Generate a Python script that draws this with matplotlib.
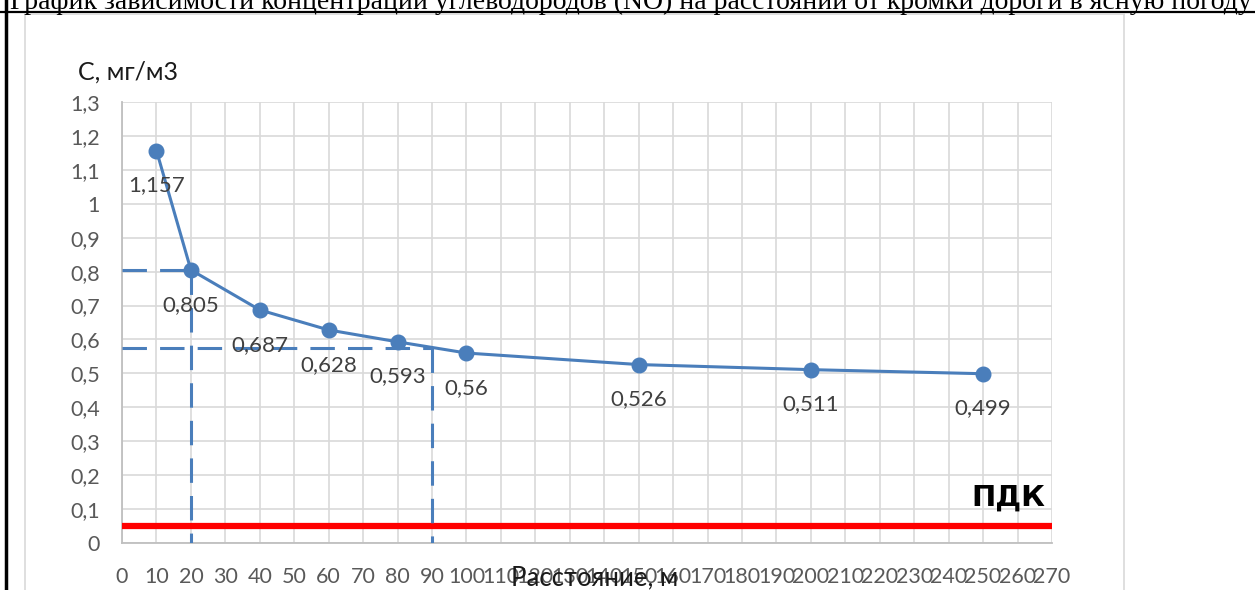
import numpy as np
import matplotlib
matplotlib.use("Agg")
import matplotlib.pyplot as plt
from matplotlib.lines import Line2D

# Data
dist = [10, 20, 40, 60, 80, 100, 150, 200, 250]
conc = [1.157, 0.805, 0.687, 0.628, 0.593, 0.56, 0.526, 0.511, 0.499]
pdk = 0.05
guide_x = [20, 90]
guide_y = [0.805, 0.575]
x_ticks = list(range(0, 271, 10))
y_ticks = [round(v * 0.1, 1) for v in range(0, 14)]

title = "График зависимости концентрации углеводородов (NO) на расстоянии от кромки дороги в ясную погоду"

plt.rcParams['font.family'] = ['Lato', 'Noto Sans', 'DejaVu Sans']

blue = '#4a7ebb'
W, H = 1255, 590
fig = plt.figure(figsize=(W / 100, H / 100), dpi=100)

ax = fig.add_axes([122 / W, (H - 543) / H, (1052 - 122) / W, (543 - 102) / H])
ax.set_xlim(0, 270)
ax.set_ylim(0, 1.3)
ax.set_xticks(x_ticks)
ax.set_yticks(y_ticks)
ax.set_xticklabels([str(v) for v in x_ticks])
ax.set_yticklabels([("%g" % v).replace('.', ',') for v in y_ticks])
ax.tick_params(length=0, labelsize=15.5, labelcolor='#595959')
ax.tick_params(axis='x', pad=17)
ax.tick_params(axis='y', pad=16)
ax.grid(True, color='#d9d9d9', lw=1.2)
ax.set_axisbelow(True)
for s in ['top', 'right']:
    ax.spines[s].set_visible(False)
for s in ['left', 'bottom']:
    ax.spines[s].set_color('#bfbfbf')
    ax.spines[s].set_linewidth(1.3)

# PDK line
ax.axhline(pdk, color='#ff0000', lw=4.5, zorder=3)

# guides
for gx, gy in zip(guide_x, guide_y):
    ax.plot([0, gx], [gy, gy], color=blue, lw=2.2, dashes=(8, 4.3), zorder=4)
    ax.plot([gx, gx], [gy, 0], color=blue, lw=2.2, dashes=(8, 4.3), zorder=4)

ax.plot(dist, conc, color=blue, lw=2.2, marker='o', ms=10.5, zorder=5)
for x, y in zip(dist, conc):
    ax.annotate(("%g" % y).replace('.', ','), (x, y), xytext=(0, -25),
                textcoords='offset points', ha='center', va='center',
                fontsize=16, color='#404040', zorder=6)

ax.text(268, 0.135, 'ПДК', ha='right', va='center', fontsize=21,
        fontweight='bold', family='DejaVu Sans', color='black')

fig.text(128 / W, (H - 72) / H, 'C, мг/м3', ha='center', va='center',
         fontsize=18, color='#1a1a1a')
fig.text(595 / W, (H - 578) / H, 'Расстояние, м', ha='center', va='center',
         fontsize=18.5, color='#1a1a1a')

# document frame and chart border
fig.add_artist(Line2D([6 / W, 6 / W], [0, 1], color='black', lw=2.5))
fig.add_artist(Line2D([0, 1], [(H - 12) / H, (H - 12) / H], color='black', lw=1.6))
fig.add_artist(Line2D([25 / W, 1124 / W], [(H - 14) / H, (H - 14) / H], color='#d9d9d9', lw=1.2))
fig.add_artist(Line2D([25 / W, 25 / W], [0, (H - 14) / H], color='#d9d9d9', lw=1.2))
fig.add_artist(Line2D([1124 / W, 1124 / W], [0, (H - 14) / H], color='#d9d9d9', lw=1.2))

fig.text(10 / W, (H - 9) / H, title, ha='left', va='baseline', fontsize=20,
         family='Liberation Serif', color='black')

fig.savefig('out.png', dpi=100)
